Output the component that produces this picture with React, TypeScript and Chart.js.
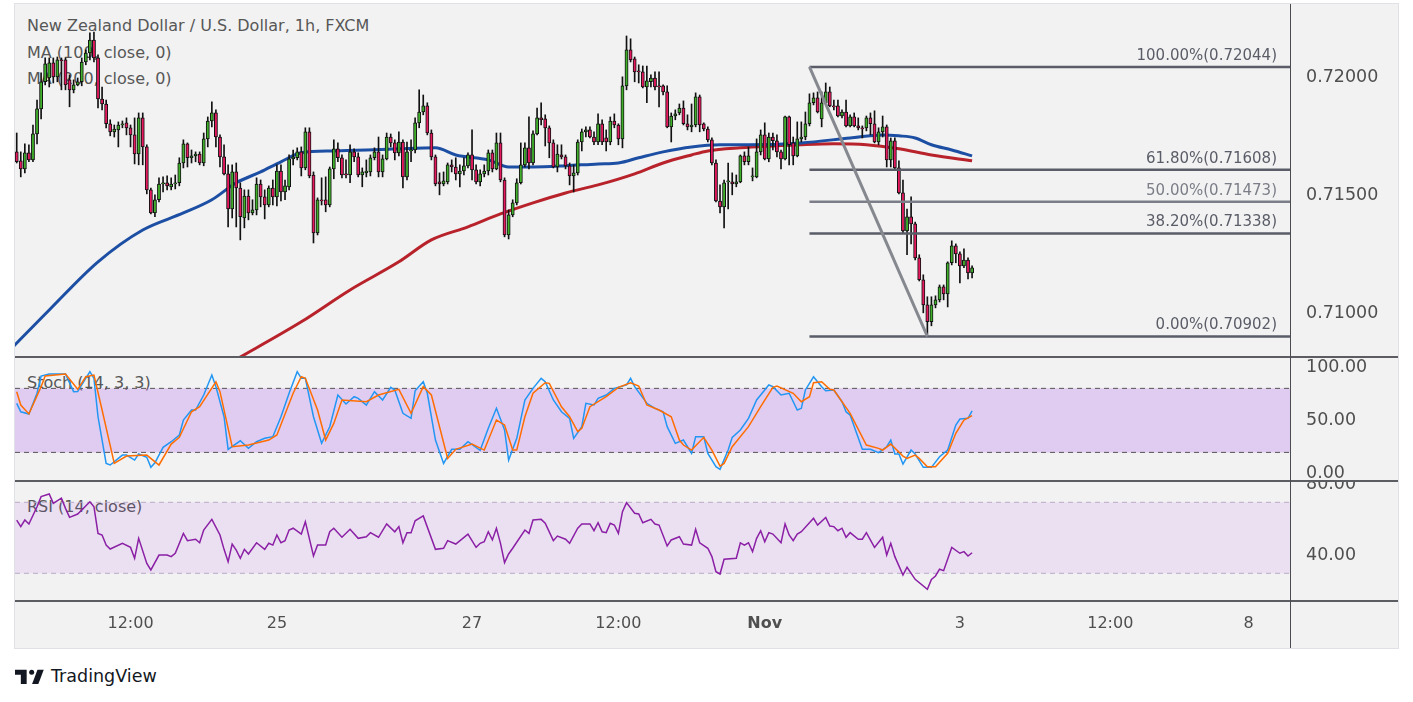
import React, { useEffect, useRef } from "react";
import { Chart, registerables } from "chart.js";

Chart.register(...registerables);

// ---------------- data ----------------
const openP = [
  0.71684,0.71646,0.71612,0.71680,0.71650,0.71760,0.71866,0.71981,0.71997,0.72061,
  0.72002,0.72074,0.72074,0.71989,0.71947,0.71968,0.71981,0.72065,0.72103,0.72158,
  0.72082,0.71908,0.71887,0.71803,0.71769,0.71777,0.71798,0.71807,0.71786,0.71756,
  0.71675,0.71828,0.71705,0.71523,0.71425,0.71481,0.71548,0.71553,0.71536,0.71548,
  0.71553,0.71637,0.71718,0.71659,0.71667,0.71675,0.71637,0.71739,0.71815,0.71849,
  0.71747,0.71663,0.71591,0.71442,0.71599,0.71531,0.71404,0.71497,0.71425,0.71438,
  0.71548,0.71493,0.71459,0.71531,0.71493,0.71603,0.71514,0.71536,0.71654,0.71659,
  0.71684,0.71616,0.71769,0.71586,0.71341,0.71481,0.71481,0.71459,0.71612,0.71697,
  0.71659,0.71591,0.71586,0.71684,0.71663,0.71586,0.71595,0.71599,0.71659,0.71684,
  0.71599,0.71654,0.71747,0.71722,0.71680,0.71726,0.71578,0.71688,0.71692,0.71807,
  0.71853,0.71879,0.71764,0.71663,0.71557,0.71548,0.71557,0.71629,0.71620,0.71591,
  0.71603,0.71625,0.71671,0.71608,0.71557,0.71591,0.71603,0.71680,0.71612,0.71722,
  0.71565,0.71332,0.71417,0.71468,0.71553,0.71629,0.71701,0.71637,0.71760,0.71828,
  0.71824,0.71786,0.71722,0.71620,0.71671,0.71663,0.71625,0.71582,0.71595,0.71726,
  0.71769,0.71777,0.71747,0.71726,0.71803,0.71743,0.71726,0.71815,0.71798,0.71739,
  0.71964,0.72116,0.72078,0.72027,0.72023,0.71959,0.71981,0.71997,0.71964,0.71964,
  0.71938,0.71790,0.71836,0.71849,0.71870,0.71803,0.71790,0.71798,0.71917,0.71803,
  0.71781,0.71735,0.71637,0.71476,0.71451,0.71557,0.71557,0.71548,0.71557,0.71667,
  0.71642,0.71578,0.71578,0.71684,0.71756,0.71654,0.71747,0.71731,0.71684,0.71654,
  0.71832,0.71722,0.71667,0.71739,0.71747,0.71803,0.71892,0.71913,0.71824,0.71892,
  0.71938,0.71879,0.71879,0.71836,0.71853,0.71794,0.71832,0.71794,0.71786,0.71786,
  0.71828,0.71803,0.71726,0.71769,0.71790,0.71650,0.71731,0.71616,0.71510,0.71349,
  0.71409,0.71379,0.71235,0.71142,0.71036,0.70964,0.71036,0.71057,0.71112,0.71082,
  0.71214,0.71286,0.71252,0.71201,0.71226,0.71171
];
const closeP = [
  0.71642,0.71612,0.71680,0.71650,0.71760,0.71866,0.71981,0.72057,0.72061,0.72002,
  0.72074,0.72070,0.71968,0.71947,0.71968,0.71981,0.72065,0.72103,0.72158,0.72082,
  0.71908,0.71887,0.71803,0.71769,0.71781,0.71798,0.71803,0.71786,0.71756,0.71675,
  0.71828,0.71705,0.71523,0.71425,0.71481,0.71548,0.71553,0.71540,0.71548,0.71553,
  0.71637,0.71718,0.71659,0.71667,0.71675,0.71637,0.71739,0.71815,0.71849,0.71747,
  0.71663,0.71591,0.71442,0.71599,0.71531,0.71409,0.71497,0.71425,0.71438,0.71548,
  0.71493,0.71459,0.71531,0.71493,0.71603,0.71514,0.71540,0.71654,0.71663,0.71684,
  0.71616,0.71769,0.71582,0.71341,0.71481,0.71476,0.71459,0.71612,0.71697,0.71659,
  0.71586,0.71586,0.71684,0.71663,0.71586,0.71599,0.71603,0.71659,0.71684,0.71599,
  0.71654,0.71747,0.71722,0.71680,0.71726,0.71578,0.71684,0.71692,0.71807,0.71853,
  0.71879,0.71764,0.71663,0.71548,0.71548,0.71561,0.71629,0.71620,0.71591,0.71603,
  0.71625,0.71671,0.71608,0.71557,0.71591,0.71603,0.71680,0.71612,0.71722,0.71565,
  0.71332,0.71417,0.71468,0.71553,0.71629,0.71701,0.71637,0.71760,0.71828,0.71820,
  0.71786,0.71722,0.71620,0.71675,0.71663,0.71625,0.71582,0.71595,0.71726,0.71769,
  0.71777,0.71747,0.71726,0.71803,0.71726,0.71726,0.71815,0.71798,0.71739,0.71964,
  0.72116,0.72074,0.72023,0.72023,0.71959,0.71985,0.71997,0.71959,0.71959,0.71938,
  0.71790,0.71836,0.71845,0.71870,0.71803,0.71790,0.71798,0.71917,0.71798,0.71781,
  0.71735,0.71637,0.71476,0.71451,0.71553,0.71561,0.71548,0.71557,0.71667,0.71642,
  0.71667,0.71582,0.71684,0.71756,0.71654,0.71747,0.71731,0.71684,0.71654,0.71832,
  0.71714,0.71667,0.71739,0.71747,0.71803,0.71892,0.71913,0.71853,0.71892,0.71938,
  0.71879,0.71875,0.71836,0.71853,0.71794,0.71832,0.71794,0.71786,0.71781,0.71828,
  0.71803,0.71726,0.71769,0.71790,0.71650,0.71731,0.71616,0.71510,0.71349,0.71409,
  0.71379,0.71235,0.71142,0.71036,0.70964,0.71036,0.71057,0.71112,0.71082,0.71214,
  0.71286,0.71252,0.71201,0.71226,0.71171,0.71193
];
const highP = [
  0.71764,0.71684,0.71718,0.71714,0.71798,0.71904,0.72019,0.72082,0.72082,0.72082,
  0.72086,0.72082,0.72082,0.72010,0.71989,0.71997,0.72082,0.72116,0.72188,0.72192,
  0.72095,0.71959,0.71904,0.71820,0.71798,0.71811,0.71815,0.71828,0.71798,0.71828,
  0.71849,0.71849,0.71714,0.71531,0.71502,0.71574,0.71578,0.71582,0.71574,0.71586,
  0.71659,0.71735,0.71722,0.71692,0.71684,0.71684,0.71764,0.71832,0.71896,0.71862,
  0.71756,0.71714,0.71629,0.71629,0.71637,0.71553,0.71523,0.71523,0.71481,0.71574,
  0.71565,0.71523,0.71540,0.71565,0.71629,0.71629,0.71565,0.71671,0.71692,0.71701,
  0.71705,0.71786,0.71786,0.71599,0.71489,0.71574,0.71578,0.71620,0.71735,0.71722,
  0.71671,0.71650,0.71714,0.71697,0.71680,0.71616,0.71650,0.71671,0.71701,0.71747,
  0.71671,0.71764,0.71760,0.71735,0.71769,0.71735,0.71726,0.71735,0.71828,0.71947,
  0.71925,0.71892,0.71777,0.71671,0.71595,0.71599,0.71637,0.71650,0.71659,0.71629,
  0.71659,0.71680,0.71777,0.71629,0.71608,0.71629,0.71692,0.71692,0.71764,0.71764,
  0.71574,0.71438,0.71481,0.71570,0.71722,0.71722,0.71832,0.71773,0.71870,0.71892,
  0.71841,0.71794,0.71735,0.71714,0.71714,0.71671,0.71637,0.71629,0.71735,0.71781,
  0.71790,0.71790,0.71769,0.71845,0.71820,0.71777,0.71832,0.71845,0.71803,0.72002,
  0.72175,0.72163,0.72086,0.72053,0.72048,0.72048,0.72010,0.72023,0.72023,0.71968,
  0.71964,0.71849,0.71862,0.71887,0.71900,0.71841,0.71887,0.71934,0.71925,0.71807,
  0.71790,0.71743,0.71650,0.71544,0.71565,0.71637,0.71595,0.71586,0.71671,0.71684,
  0.71705,0.71616,0.71739,0.71777,0.71807,0.71764,0.71764,0.71756,0.71692,0.71836,
  0.71836,0.71747,0.71811,0.71811,0.71853,0.71930,0.71934,0.71938,0.71938,0.71976,
  0.71959,0.71904,0.71904,0.71862,0.71904,0.71841,0.71849,0.71828,0.71794,0.71836,
  0.71849,0.71858,0.71786,0.71836,0.71798,0.71743,0.71743,0.71646,0.71565,0.71442,
  0.71493,0.71387,0.71248,0.71163,0.71070,0.71070,0.71074,0.71120,0.71120,0.71218,
  0.71307,0.71294,0.71260,0.71273,0.71235,0.71201
];
const lowP = [
  0.71637,0.71578,0.71595,0.71642,0.71642,0.71718,0.71824,0.71968,0.71959,0.71976,
  0.71981,0.71947,0.71947,0.71875,0.71934,0.71964,0.71964,0.72053,0.72074,0.72065,
  0.71870,0.71862,0.71786,0.71752,0.71747,0.71705,0.71786,0.71756,0.71705,0.71633,
  0.71629,0.71629,0.71506,0.71421,0.71409,0.71472,0.71514,0.71523,0.71523,0.71527,
  0.71540,0.71616,0.71620,0.71637,0.71642,0.71629,0.71625,0.71705,0.71790,0.71705,
  0.71620,0.71586,0.71366,0.71404,0.71366,0.71311,0.71362,0.71396,0.71417,0.71417,
  0.71451,0.71400,0.71451,0.71459,0.71455,0.71476,0.71481,0.71523,0.71629,0.71650,
  0.71582,0.71608,0.71574,0.71298,0.71332,0.71459,0.71430,0.71451,0.71570,0.71642,
  0.71574,0.71574,0.71553,0.71642,0.71578,0.71536,0.71578,0.71582,0.71650,0.71578,
  0.71578,0.71650,0.71705,0.71650,0.71667,0.71531,0.71565,0.71642,0.71680,0.71786,
  0.71841,0.71756,0.71650,0.71540,0.71502,0.71540,0.71548,0.71599,0.71565,0.71536,
  0.71586,0.71616,0.71565,0.71548,0.71540,0.71578,0.71586,0.71599,0.71608,0.71557,
  0.71324,0.71315,0.71409,0.71459,0.71548,0.71620,0.71612,0.71629,0.71756,0.71798,
  0.71709,0.71659,0.71616,0.71599,0.71654,0.71612,0.71544,0.71514,0.71586,0.71688,
  0.71747,0.71743,0.71714,0.71714,0.71714,0.71688,0.71714,0.71786,0.71714,0.71701,
  0.71947,0.72065,0.71981,0.71976,0.71955,0.71892,0.71959,0.71947,0.71875,0.71925,
  0.71786,0.71726,0.71820,0.71841,0.71798,0.71777,0.71769,0.71790,0.71769,0.71773,
  0.71726,0.71629,0.71472,0.71425,0.71362,0.71442,0.71502,0.71536,0.71553,0.71629,
  0.71629,0.71561,0.71574,0.71671,0.71650,0.71642,0.71692,0.71663,0.71612,0.71650,
  0.71629,0.71629,0.71663,0.71726,0.71735,0.71794,0.71883,0.71849,0.71790,0.71887,
  0.71875,0.71862,0.71832,0.71828,0.71790,0.71790,0.71790,0.71777,0.71743,0.71773,
  0.71756,0.71722,0.71714,0.71747,0.71620,0.71620,0.71612,0.71506,0.71341,0.71248,
  0.71294,0.71226,0.71137,0.71002,0.70902,0.70947,0.71023,0.71048,0.71057,0.71027,
  0.71205,0.71214,0.71129,0.71193,0.71146,0.71150
];

const ma100Idx = [-1, 8, 20, 31, 41, 48, 54, 60, 65, 70, 78, 86, 94, 103, 108, 116, 121, 127, 135, 143, 148, 153, 159, 166, 173, 180, 193, 205, 213, 217, 221, 225, 230, 235];
const ma100Val = [0.70856, 0.71014, 0.71218, 0.71353, 0.71425, 0.71481, 0.71553, 0.71599, 0.71642, 0.71680, 0.71688, 0.71692, 0.71697, 0.71701, 0.71671, 0.71650, 0.71620, 0.71620, 0.71625, 0.71633, 0.71637, 0.71659, 0.71684, 0.71705, 0.71714, 0.71714, 0.71722, 0.71743, 0.71756, 0.71752, 0.71743, 0.71714, 0.71692, 0.71667];
const ma200Idx = [45, 55, 70, 82, 94, 102, 111, 119, 127, 135, 143, 152, 159, 166, 170, 178, 193, 201, 209, 217, 225, 235];
const ma200Val = [0.70718, 0.70815, 0.70964, 0.71099, 0.71218, 0.71311, 0.71366, 0.71421, 0.71468, 0.71510, 0.71544, 0.71591, 0.71637, 0.71671, 0.71688, 0.71701, 0.71714, 0.71718, 0.71714, 0.71697, 0.71671, 0.71646];

const stochKIdx = [0,1,3,5,6,8,10,12,14,15,18,19,20,22,23,26,27,29,30,32,33,34,36,38,40,41,43,44,46,48,49,51,52,55,57,59,61,63,65,67,69,70,71,73,75,77,79,81,83,84,86,88,90,92,93,95,97,98,100,101,103,105,107,109,111,114,116,118,120,121,123,125,127,129,130,132,134,136,137,139,140,142,143,145,147,150,151,152,155,157,159,160,162,164,166,167,169,170,172,173,175,176,178,180,182,185,186,188,190,192,193,194,196,198,199,201,203,204,205,208,210,212,214,215,216,217,218,220,221,223,225,227,229,231,232,234,235];
const stochKVal = [65.9,58,56,75.4,91.6,93.5,93.5,93.5,76.9,77,95.6,89.4,53.4,9.7,8.2,17.5,17.5,12.8,18.5,15.4,6,10.3,24.7,30,36.3,50.3,59.7,59.7,73.8,92.5,81.6,53.4,22.9,30.9,23.8,30,33.2,34.7,53.4,75.4,95.6,89.4,89.4,53.4,28.5,44,73.8,65.3,72.2,70.7,64.4,76.9,69.1,81,78.5,56.6,51.9,77.8,86.2,75.4,31.6,9.7,22.9,22.9,30,22,42.6,61.3,41,12.8,33.2,69.1,80,89.4,86.2,69.1,58.1,51.9,33.2,44.1,66,64.4,70.7,73.8,80,83.2,89.4,81.6,66,61.3,58.1,44.1,28.5,31.6,19.1,34.7,34.7,19.1,6.6,4.1,22.2,34.1,41,51.9,69.1,83.2,81.6,73.8,75.4,59.7,61.3,78.5,90.9,81.6,77.8,78.5,67.5,58.1,55,22.9,22.9,19.7,25.3,31.6,18.5,18.5,9.1,22.2,18.5,6,6,15.9,22.2,45.7,51.3,51.9,59];
const stochDIdx = [0,1,3,6,7,12,15,17,19,21,24,27,32,35,38,40,43,45,49,50,53,57,62,64,68,70,71,74,76,78,80,86,89,94,97,100,102,106,108,112,115,118,120,122,123,125,127,130,131,134,136,138,139,141,145,148,151,153,155,158,161,163,164,166,169,171,173,174,176,180,183,186,187,191,193,195,196,198,200,201,205,209,212,213,215,218,219,221,222,224,226,229,231,233,235];
const stochDVal = [76.9,64.4,56,81.6,91.6,93.5,79.1,90.9,92.5,59.7,9.7,16.6,17.5,8.2,27.8,34.1,58.1,62.8,86.2,76.9,25.3,26.9,31.6,36.3,75.4,90.9,89.4,59.7,31.6,47.2,69.1,67.5,73.8,79.1,56.6,81.6,73.8,14.4,22.9,27.8,22.2,50.3,45.7,22.2,22.2,53.4,75.4,85.3,84.7,62.8,53.4,39.4,42.6,62.8,72.2,81,85.3,82.2,64.4,59.7,53.4,31.6,26.9,22.2,34.1,22.2,7.2,9.7,25.3,44.1,62.8,81,82.2,75.4,67.5,72.2,85.3,86.2,79.1,78.5,56.6,26.9,23.8,22.2,27.8,16.6,14.4,17.5,14.4,6.6,6.6,19.1,37.9,50.3,54.4];

const rsiIdx = [0,1,2,3,5,6,8,9,11,12,13,15,18,19,20,21,22,23,26,28,29,30,32,33,35,37,38,39,41,42,44,45,46,48,50,51,52,53,54,55,56,57,59,61,62,63,64,65,66,67,68,70,71,73,74,76,77,78,80,82,84,86,87,89,91,93,94,95,96,97,98,100,103,105,106,108,111,113,114,115,116,117,118,119,120,121,122,125,126,127,129,130,132,133,135,136,138,139,141,142,143,144,145,146,147,148,149,150,152,153,154,156,157,158,160,161,163,164,166,167,168,170,171,172,173,174,177,178,179,180,181,182,183,184,185,186,188,189,190,191,192,193,196,197,199,200,201,202,203,204,205,207,208,209,211,213,214,215,216,218,219,221,224,225,226,227,228,230,232,233,234,235];
const rsiVal = [60,56.3,60,57.8,67.5,73.2,74.7,69.4,72.3,66.6,61.5,63.4,70.3,67.5,52.5,51.6,45.9,43.7,46.9,44.6,38.5,49.7,35.6,31.9,40.3,40.3,39.4,41.3,52.5,48.4,49.2,47.2,54.4,60.4,51.6,43.5,36.5,46.5,43.1,38.5,43.5,40.9,47.2,43.5,46.9,45.9,51.6,47.2,48.4,54.4,55.4,52.1,59.1,39.8,45.9,45.9,53.4,55.4,50.3,54.8,49.7,50.6,52.9,50.3,57.8,53.4,56.3,47.2,52.9,52.9,59.6,62.3,43.5,44.1,48.4,46.5,52.1,44.6,46.9,47.8,53.4,48.8,55.4,46.9,36,40.9,44.1,54.4,52.5,60,60.4,58.2,48.4,51,49.2,46.9,55.4,57.8,57.8,54,58.5,53.4,52.9,58.2,57.2,52.5,64.7,69.8,63.8,63.4,58.5,60.4,57.8,57.2,45.4,48.8,50.6,46.5,45.9,54.8,47.2,44.1,39.4,30.9,29.6,37.9,38.5,47.2,45.9,47.2,42.2,49.7,54,47.8,52.9,52.1,47.2,57.8,51.6,48.4,52.1,53.4,61,57.2,61.5,56.6,56.3,54,55.4,50.3,52.9,49.2,49.2,52.9,44.6,50.3,40.3,46.9,39.4,29,33.4,26.6,21,26.6,28.5,32.3,31.5,44.6,41.3,42.2,39.7,41.6];

const xTickIdx = [28, 64, 112, 148, 184, 232, 269, 303];
const xTickText = ["12:00", "25", "27", "12:00", "Nov", "3", "12:00", "8"];
const priceTicks = [0.71, 0.715, 0.72];
const stochTicks = [0, 50, 100];
const rsiTicks = [40, 80];
const stochBands = [80, 20];
const rsiBands = [70, 30];
const fibRatios = [1, 0.618, 0.5, 0.382, 0];
const fibPrices = [0.72044, 0.71608, 0.71473, 0.71338, 0.70902];
const fibStartIdx = 195;
const fibEndIdx = 224;

// ---------------- layout / style ----------------
const FONT = '"DejaVu Sans", sans-serif';
const W = 1383;
const AXIS_W = 108;
const X_MIN = -0.42;
const X_MAX = 313.2;
const PRICE_MIN = 0.708148, PRICE_MAX = 0.723106;
const STOCH_MIN = -6.8, STOCH_MAX = 109.4;
const RSI_MIN = 14.4, RSI_MAX = 82.0;
const PRICE_H = 353, STOCH_H = 124, RSI_H = 167;
const TEXT = "#4f4f4f";
const UP = "#3fae2a";
const DOWN = "#e5195e";

function yAxis(min: number, max: number, ticks: number[], decimals: number) {
  return {
    type: "linear",
    position: "right",
    min,
    max,
    grid: { display: false, drawTicks: false },
    border: { display: false },
    afterFit: (s: any) => { s.width = AXIS_W; s.paddingTop = 0; s.paddingBottom = 0; },
    afterBuildTicks: (s: any) => { s.ticks = ticks.map((v) => ({ value: v })); },
    ticks: {
      padding: 16,
      color: TEXT,
      font: { family: FONT, size: 17.5 },
      callback: (v: any) => Number(v).toFixed(decimals),
    },
  };
}

function xHidden() {
  return { type: "linear", min: X_MIN, max: X_MAX, offset: false, display: false };
}

const baseOpts = {
  animation: false,
  responsive: true,
  maintainAspectRatio: false,
  events: [],
  layout: { padding: 0 },
  plugins: { legend: { display: false }, tooltip: { enabled: false } },
};

const fibLabelPlugin = {
  id: "fibLabels",
  afterDatasetsDraw(chart: any) {
    const { ctx, chartArea, scales } = chart;
    ctx.save();
    ctx.font = `15px ${FONT}`;
    ctx.textAlign = "right";
    ctx.textBaseline = "middle";
    fibPrices.forEach((p, i) => {
      const y = scales.y.getPixelForValue(p);
      ctx.fillStyle = fibRatios[i] === 0.5 ? "#7b7e88" : "#5a5d68";
      ctx.fillText(`${(fibRatios[i] * 100).toFixed(2)}%(${p.toFixed(5)})`, chartArea.right - 13, y - 11);
    });
    ctx.restore();
  },
};

function priceConfig(): any {
  const idx = openP.map((_, i) => i);
  const line = (data: any[], color: string, width: number, order: number, extra: any = {}) => ({
    type: "line", data, borderColor: color, borderWidth: width, pointRadius: 0, order, ...extra,
  });
  const fibLines = fibPrices.map((p, i) =>
    line([{ x: fibStartIdx, y: p }, { x: X_MAX, y: p }], fibRatios[i] === 0.5 ? "#7b7e88" : "#5a5d68", 2.5, 1)
  );
  return {
    type: "bar",
    data: {
      datasets: [
        line(ma100Idx.map((x, i) => ({ x, y: ma100Val[i] })), "#1c4fa3", 3, 6, { cubicInterpolationMode: "monotone" }),
        line(ma200Idx.map((x, i) => ({ x, y: ma200Val[i] })), "#b8222a", 3, 6, { cubicInterpolationMode: "monotone" }),
        {
          type: "bar", data: idx.map((i) => ({ x: i, y: [lowP[i], highP[i]] })),
          backgroundColor: "#111", borderWidth: 0, barThickness: 1, grouped: false, order: 4,
        },
        {
          type: "bar", data: idx.map((i) => ({ x: i, y: [openP[i], closeP[i]] })),
          backgroundColor: idx.map((i) => (closeP[i] >= openP[i] ? UP : DOWN)),
          borderColor: "#111", borderWidth: 1, borderSkipped: false, barThickness: 3.2,
          minBarLength: 1, grouped: false, order: 3,
        },
        ...fibLines,
        line([{ x: fibStartIdx, y: fibPrices[0] }, { x: fibEndIdx, y: fibPrices[4] }], "#86888f", 3, 0),
      ],
    },
    options: {
      ...baseOpts,
      scales: { x: xHidden(), y: yAxis(PRICE_MIN, PRICE_MAX, priceTicks, 5) },
    },
    plugins: [fibLabelPlugin],
  };
}

function bandSets(levels: number[], dashColor: string, fillColor: string) {
  return levels.map((lv, i) => ({
    type: "line",
    data: [{ x: X_MIN, y: lv }, { x: X_MAX, y: lv }],
    borderColor: dashColor,
    borderWidth: 1,
    borderDash: [5, 4],
    pointRadius: 0,
    fill: i === 0 ? false : "-1",
    backgroundColor: fillColor,
    order: 5,
  }));
}

function stochConfig(): any {
  return {
    type: "line",
    data: {
      datasets: [
        ...bandSets(stochBands, "#555555", "rgba(165, 70, 235, 0.22)"),
        { data: stochKIdx.map((x, i) => ({ x, y: stochKVal[i] })), borderColor: "#2196f3", borderWidth: 1.5, pointRadius: 0, order: 2 },
        { data: stochDIdx.map((x, i) => ({ x, y: stochDVal[i] })), borderColor: "#ff6d00", borderWidth: 1.5, pointRadius: 0, order: 1 },
      ],
    },
    options: {
      ...baseOpts,
      scales: { x: xHidden(), y: yAxis(STOCH_MIN, STOCH_MAX, stochTicks, 2) },
    },
  };
}

function rsiConfig(): any {
  return {
    type: "line",
    data: {
      datasets: [
        ...bandSets(rsiBands, "#b8a8c6", "rgba(165, 70, 235, 0.1)"),
        { data: rsiIdx.map((x, i) => ({ x, y: rsiVal[i] })), borderColor: "#8b1fa5", borderWidth: 1.5, pointRadius: 0, order: 1 },
      ],
    },
    options: {
      ...baseOpts,
      scales: {
        x: {
          type: "linear", min: X_MIN, max: X_MAX, offset: false, position: "bottom",
          grid: { display: false, drawTicks: false },
          border: { display: false },
          afterBuildTicks: (s: any) => { s.ticks = xTickIdx.map((v) => ({ value: v })); },
          afterFit: (s: any) => { s.height = 47; s.paddingLeft = 0; s.paddingRight = 0; },
          ticks: {
            autoSkip: false, maxRotation: 0, minRotation: 0, padding: 13, color: TEXT,
            font: (c: any) => ({ family: FONT, size: 16, weight: c.tick && xTickText[xTickIdx.indexOf(c.tick.value)] === "Nov" ? "bold" : "normal" }),
            callback: (_v: any, i: number) => xTickText[i],
          },
        },
        y: yAxis(RSI_MIN, RSI_MAX, rsiTicks, 2),
      },
    },
  };
}

const txt = (top: number): React.CSSProperties => ({
  position: "absolute", left: 12, top, fontFamily: FONT, fontSize: 16, lineHeight: "19px",
  color: "#575757", whiteSpace: "nowrap", zIndex: 0,
});

export default function App() {
  const r1 = useRef<HTMLCanvasElement>(null);
  const r2 = useRef<HTMLCanvasElement>(null);
  const r3 = useRef<HTMLCanvasElement>(null);

  useEffect(() => {
    const c1 = new Chart(r1.current as HTMLCanvasElement, priceConfig());
    const c2 = new Chart(r2.current as HTMLCanvasElement, stochConfig());
    const c3 = new Chart(r3.current as HTMLCanvasElement, rsiConfig());
    return () => { c1.destroy(); c2.destroy(); c3.destroy(); };
  }, []);

  const pane = (top: number, h: number): React.CSSProperties => ({
    position: "absolute", left: 0, top, width: W, height: h, zIndex: 1,
  });
  const hLine = (top: number): React.CSSProperties => ({
    position: "absolute", left: 0, top, width: W, height: 2, background: "#5b5d63", zIndex: 2,
  });

  return (
    <div style={{ position: "absolute", left: 0, top: 0, width: 1413, height: 702, background: "#ffffff" }}>
      <div
        style={{
          position: "absolute", left: 15, top: 4, width: W, height: 644, background: "#f2f2f2",
          boxShadow: "0 0 0 1px #dfe1e6", overflow: "hidden",
        }}
      >
        <div style={txt(11.5)}>New Zealand Dollar / U.S. Dollar, 1h, FXCM</div>
        <div style={txt(38.5)}>MA (100, close, 0)</div>
        <div style={txt(64.5)}>MA (200, close, 0)</div>
        <div style={txt(368.5)}>Stoch (14, 3, 3)</div>
        <div style={txt(492.5)}>RSI (14, close)</div>

        <div style={pane(0, PRICE_H)}><canvas ref={r1} /></div>
        <div style={pane(PRICE_H, STOCH_H)}><canvas ref={r2} /></div>
        <div style={pane(PRICE_H + STOCH_H, RSI_H)}><canvas ref={r3} /></div>

        <div style={hLine(PRICE_H - 1)} />
        <div style={hLine(PRICE_H + STOCH_H - 1)} />
        <div style={hLine(PRICE_H + STOCH_H + 119)} />
        <div style={{ position: "absolute", left: W - AXIS_W, top: 0, width: 1, height: 644, background: "#4a4c52", zIndex: 2 }} />
      </div>

      <div style={{ position: "absolute", left: 15, top: 666, display: "flex", alignItems: "center", gap: 6 }}>
        <svg width="30" height="17" viewBox="0 0 36 20">
          <path d="M14 19H7V8H0V2h14v17z" fill="#131722" />
          <circle cx="20" cy="5" r="3" fill="#131722" />
          <path d="M28 19h-7.5L27 2h7.5L28 19z" fill="#131722" />
        </svg>
        <span style={{ fontFamily: FONT, fontSize: 17.5, color: "#131722" }}>TradingView</span>
      </div>
    </div>
  );
}
